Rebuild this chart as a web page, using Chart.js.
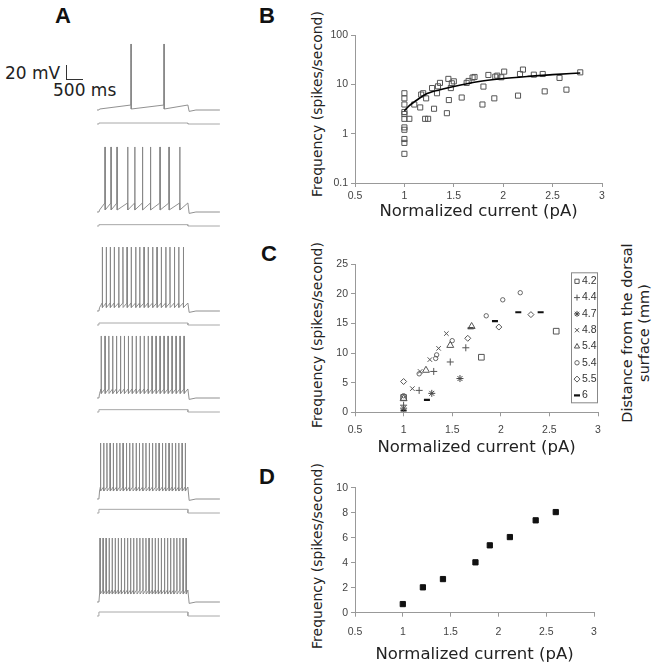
<!DOCTYPE html>
<html>
<head>
<meta charset="utf-8">
<title>Firing frequency vs current</title>
<script src="https://cdn.jsdelivr.net/npm/chart.js"></script>
<style>
  body { margin: 0; width: 666px; height: 671px; position: relative; overflow: hidden; background: #fff; font-family: 'DejaVu Sans', sans-serif; color: #222; }
  canvas { position: absolute; }
  .panel { position: absolute; font: bold 22px 'Liberation Sans', Arial, sans-serif; line-height: 22px; color: #111; }
  .txt { position: absolute; white-space: nowrap; font-size: 17px; line-height: 17px; color: #222; }
  .ytitle { position: absolute; width: 240px; height: 18px; line-height: 18px; text-align: center; font-size: 14px; transform: rotate(-90deg); white-space: nowrap; color: #222; }
  .rtitle { position: absolute; width: 220px; height: 34px; line-height: 17px; text-align: center; font-size: 14.5px; transform: rotate(-90deg); white-space: nowrap; color: #222; }
</style>
</head>
<body>
<div class="panel" style="left:55px;top:5px">A</div>
<div class="panel" style="left:259px;top:5px">B</div>
<div class="panel" style="left:261px;top:243px">C</div>
<div class="panel" style="left:259px;top:466px">D</div>

<div class="txt" style="left:5px;top:65px">20 mV</div>
<div style="position:absolute;left:66px;top:65px;width:16px;height:14px;border-left:1px solid #333;border-bottom:1px solid #333"></div>
<div class="txt" style="left:53px;top:82px">500 ms</div>

<div class="ytitle" style="left:197px;top:95px">Frequency (spikes/second)</div>
<div class="ytitle" style="left:197px;top:326px">Frequency (spikes/second)</div>
<div class="ytitle" style="left:197px;top:547px">Frequency (spikes/second)</div>
<div class="rtitle" style="left:526px;top:316px">Distance from the dorsal<br>surface (mm)</div>

<script>
// ---------- panel A: sweeps (times in ms from sweep start, levels in mV, step in pA) ----------
const stepOnMs = 60;
const stepOffMs = 2840;
const sweepEndMs = 3840;
const sweepSpikesMs = [
  [1063, 2094],
  [250, 438, 625, 959, 1181, 1422, 1672, 1969, 2250, 2587],
  [166, 290, 415, 540, 680, 810, 940, 1070, 1210, 1335, 1470, 1600, 1740, 1875, 2010, 2150, 2280, 2420, 2555, 2700],
  [130, 250, 370, 490, 610, 735, 855, 980, 1100, 1225, 1350, 1475, 1600, 1720, 1845, 1970, 2095, 2220, 2345, 2470, 2595, 2720],
  [110, 210, 310, 410, 510, 615, 715, 815, 920, 1020, 1120, 1225, 1325, 1430, 1530, 1635, 1735, 1840, 1940, 2045, 2145, 2250, 2350, 2455, 2555, 2660, 2760],
  [95, 190, 285, 380, 475, 570, 665, 760, 860, 955, 1050, 1145, 1245, 1340, 1435, 1530, 1625, 1725, 1820, 1915, 2010, 2110, 2205, 2300, 2400, 2495, 2590, 2690, 2785]
];
const sweepRestMv   = [-70, -70, -70, -70, -70, -70];
const sweepTroughMv = [-68.6, -67.1, -65.0, -63.6, -58.6, -58.6];
const sweepThreshMv = [-62.9, -57.1, -58.6, -57.1, -52.9, -52.9];
const sweepPeakMv   = [24.3, 22.9, 21.4, 18.6, 10.0, 21.4];
const sweepStepPa   = [30, 40, 60, 70, 110, 120];

// ---------- panel B ----------
const xTicks = [0.5, 1, 1.5, 2, 2.5, 3];
const bLogTicks = [0.1, 1, 10, 100];
const bCurrent = [1, 1, 1, 1, 1, 1, 1, 1, 1, 1, 1,
  1.05, 1.1, 1.16, 1.17, 1.19, 1.21, 1.22, 1.24, 1.28, 1.3, 1.33, 1.34, 1.36,
  1.43, 1.445, 1.45, 1.47, 1.48, 1.5, 1.58, 1.63, 1.65, 1.69, 1.71, 1.79, 1.8,
  1.85, 1.91, 1.92, 1.94, 1.98, 2.01, 2.15, 2.17, 2.2, 2.31, 2.4, 2.42, 2.57, 2.64, 2.78];
const bFreq = [6.6, 5.2, 3.9, 2.75, 2.5, 2.0, 1.34, 1.2, 0.78, 0.65, 0.39,
  2.0, 3.9, 3.4, 6.2, 6.6, 2.0, 5.2, 2.0, 8.4, 3.2, 6.6, 9.1, 10.7,
  2.6, 12.9, 4.8, 8.4, 10.5, 11.5, 5.4, 10.7, 11.7, 13.7, 14.1, 3.9, 9.0,
  15.5, 5.2, 14.3, 15.0, 13.9, 18.1, 5.9, 16.2, 19.9, 15.7, 16.2, 7.2, 13.5, 7.8, 17.5];
const bFitCurrent = [1.0, 1.05, 1.1, 1.23, 1.4, 1.57, 1.74, 1.98, 2.25, 2.5, 2.78];
const bFitFreq = [2.9, 3.7, 4.4, 6.5, 8.1, 9.7, 11.3, 13.0, 14.5, 15.7, 17.0];

// ---------- panel C ----------
const cDepthLabels = ['4.2', '4.4', '4.7', '4.8', '5.4', '5.4', '5.5', '6'];
const cCurrent = [
  [1.0, 1.8, 2.57],
  [1.0, 1.16, 1.31, 1.48, 1.64],
  [1.0, 1.29, 1.58],
  [1.09, 1.17, 1.27, 1.36, 1.44],
  [1.0, 1.23, 1.48, 1.7],
  [1.0, 1.16, 1.33, 1.34, 1.5, 1.85, 2.02, 2.2],
  [1.0, 1.66, 1.98, 2.31],
  [1.0, 1.24, 1.69, 1.94, 2.18, 2.41]
];
const cFreq = [
  [2.5, 9.3, 13.7],
  [1.2, 3.7, 6.9, 8.5, 10.9],
  [0.7, 3.2, 5.7],
  [4.0, 6.9, 8.9, 10.8, 13.3],
  [2.3, 7.1, 11.3, 14.5],
  [2.8, 6.5, 9.1, 9.7, 12.1, 16.3, 19.0, 20.2],
  [5.2, 12.5, 14.4, 16.5],
  [0.3, 2.1, 14.2, 15.4, 16.9, 16.9]
];

// ---------- panel D ----------
const dCurrent = [1.0, 1.21, 1.42, 1.76, 1.91, 2.12, 2.39, 2.6];
const dFreq = [0.69, 2.03, 2.69, 4.03, 5.39, 6.05, 7.39, 8.05];

// ---------- helpers ----------
Chart.defaults.font.family = "'DejaVu Sans', sans-serif";
Chart.defaults.color = '#333';
Chart.defaults.animation = false;

function makeCanvas(id, left, top, w, h) {
  const c = document.createElement('canvas');
  c.id = id;
  c.width = w; c.height = h;
  c.style.left = left + 'px'; c.style.top = top + 'px';
  c.style.width = w + 'px'; c.style.height = h + 'px';
  document.body.appendChild(c);
  return c.getContext('2d');
}

function zip(xs, ys) {
  return xs.map((x, i) => ({x: x, y: ys[i]}));
}

function voltageTrace(i) {
  const pts = [{x: 0, y: sweepRestMv[i]}, {x: stepOnMs, y: sweepRestMv[i]}, {x: stepOnMs + 20, y: sweepTroughMv[i]}];
  for (const t of sweepSpikesMs[i]) {
    pts.push({x: t - 4, y: sweepThreshMv[i]});
    pts.push({x: t, y: sweepPeakMv[i]});
    pts.push({x: t + 6, y: sweepTroughMv[i]});
  }
  pts.push({x: stepOffMs, y: sweepThreshMv[i]});
  pts.push({x: stepOffMs + 40, y: sweepRestMv[i] - 2});
  pts.push({x: stepOffMs + 250, y: sweepRestMv[i]});
  pts.push({x: sweepEndMs, y: sweepRestMv[i]});
  return pts;
}

function currentTrace(i) {
  const a = sweepStepPa[i];
  return [{x: 0, y: 0}, {x: stepOnMs, y: 0}, {x: stepOnMs, y: a}, {x: stepOffMs, y: a}, {x: stepOffMs, y: 0}, {x: sweepEndMs, y: 0}];
}

// sweeps: 0.7 px per mV, 31.25 ms per px
const sweepTops = [33, 135, 234, 321, 422, 525];
sweepSpikesMs.forEach((spikes, i) => {
  const ctx = makeCanvas('sweep' + i, 97, sweepTops[i], 125, 100);
  new Chart(ctx, {
    type: 'line',
    data: {
      datasets: [
        {data: voltageTrace(i), yAxisID: 'v', borderColor: '#858585', borderWidth: 0.9, pointRadius: 0, tension: 0},
        {data: currentTrace(i), yAxisID: 'i', borderColor: '#a8a8a8', borderWidth: 1, pointRadius: 0, tension: 0}
      ]
    },
    options: {
      responsive: false, events: [],
      layout: {padding: 0},
      plugins: {legend: {display: false}, tooltip: {enabled: false}},
      scales: {
        x: {type: 'linear', display: false, min: 0, max: 125 * 31.25},
        v: {display: false, min: 40 - 100 / 0.7, max: 40},
        i: {display: false, min: -270, max: 2730}
      }
    }
  });
});

function panelOptions(p) {
  return {
    responsive: false, events: [],
    layout: {padding: {top: p.padTop, right: p.padRight, left: 0, bottom: 0}},
    plugins: {legend: {display: false}, tooltip: {enabled: false}},
    scales: {
      x: {
        type: 'linear', min: 0.5, max: 3,
        afterBuildTicks: s => { s.ticks = xTicks.map(v => ({value: v})); },
        afterFit: s => { s.height = p.xHeight; },
        grid: {drawOnChartArea: false, drawTicks: true, tickLength: 4, color: '#999'},
        border: {color: '#999'},
        ticks: {padding: p.xTickPad, autoSkip: false, maxRotation: 0, color: '#444',
          font: {family: "'Liberation Sans', sans-serif", size: 10.5}, callback: v => String(v)},
        title: {display: true, text: 'Normalized current (pA)', color: '#222',
          font: {size: 16.5}, padding: {top: 0, bottom: p.xTitlePad}}
      },
      y: {
        type: p.yType, min: p.yMin, max: p.yMax,
        afterBuildTicks: s => { s.ticks = p.yTicks.map(v => ({value: v})); },
        afterFit: s => { s.width = 100; },
        grid: {drawOnChartArea: false, drawTicks: true, tickLength: 4, color: '#999'},
        border: {color: '#999'},
        ticks: {padding: 3, autoSkip: false, color: '#444',
          font: {family: "'Liberation Sans', sans-serif", size: 10.5}, callback: v => String(v)},
        title: {display: false}
      }
    }
  };
}

// ---------- B ----------
new Chart(makeCanvas('chartB', 255, 0, 360, 225), {
  type: 'scatter',
  data: {
    datasets: [
      {data: zip(bFitCurrent, bFitFreq), showLine: true, pointRadius: 0, borderColor: '#000', borderWidth: 1.6,
        cubicInterpolationMode: 'monotone'},
      {data: zip(bCurrent, bFreq), pointStyle: 'rect', pointRadius: 3.6, borderWidth: 1,
        borderColor: '#555', backgroundColor: 'rgba(0,0,0,0)'}
    ]
  },
  options: panelOptions({padTop: 35, padRight: 13, xHeight: 42, xTickPad: 3, xTitlePad: 3,
    yType: 'logarithmic', yMin: 0.1, yMax: 100, yTicks: bLogTicks})
});

// ---------- C ----------
const cStyles = [
  {pointStyle: 'rect', pointRadius: 4, borderWidth: 1, borderColor: '#555'},
  {pointStyle: 'cross', pointRadius: 3.5, borderWidth: 1, borderColor: '#555'},
  {pointStyle: 'star', pointRadius: 3.5, borderWidth: 1, borderColor: '#444'},
  {pointStyle: 'crossRot', pointRadius: 3.2, borderWidth: 1, borderColor: '#555'},
  {pointStyle: 'triangle', pointRadius: 4, borderWidth: 1, borderColor: '#555'},
  {pointStyle: 'circle', pointRadius: 2.2, borderWidth: 1, borderColor: '#666'},
  {pointStyle: 'rectRot', pointRadius: 3, borderWidth: 1, borderColor: '#555'},
  {pointStyle: 'line', pointRadius: 3, borderWidth: 2.2, borderColor: '#111'}
];

const cLegend = {
  id: 'cLegend',
  afterDatasetsDraw(chart) {
    const ctx = chart.ctx, a = chart.chartArea;
    const x0 = a.right - 27, y0 = a.top + 8, w = 27, h = 131, row = 16.3;
    ctx.save();
    ctx.fillStyle = '#fff';
    ctx.fillRect(x0, y0, w, h);
    ctx.strokeStyle = '#888';
    ctx.lineWidth = 1;
    ctx.strokeRect(x0 + 0.5, y0 + 0.5, w - 1, h - 1);
    chart.data.datasets.forEach((ds, i) => {
      const cy = y0 + 9 + i * row;
      if (Chart.helpers && Chart.helpers.drawPoint) {
        ctx.strokeStyle = ds.borderColor;
        ctx.fillStyle = 'rgba(0,0,0,0)';
        ctx.lineWidth = ds.borderWidth;
        Chart.helpers.drawPoint(ctx, {pointStyle: ds.pointStyle, radius: Math.min(ds.pointRadius, 3), borderWidth: ds.borderWidth, rotation: 0}, x0 + 6, cy);
      }
      ctx.fillStyle = '#333';
      ctx.font = "10.5px 'Liberation Sans', sans-serif";
      ctx.textBaseline = 'middle';
      ctx.textAlign = 'left';
      ctx.fillText(ds.label, x0 + 11, cy);
    });
    ctx.restore();
  }
};

new Chart(makeCanvas('chartC', 255, 225, 360, 235), {
  type: 'scatter',
  data: {
    datasets: cDepthLabels.map((lab, i) => Object.assign({
      label: lab,
      data: zip(cCurrent[i], cFreq[i]),
      backgroundColor: 'rgba(0,0,0,0)'
    }, cStyles[i]))
  },
  options: panelOptions({padTop: 39.3, padRight: 17, xHeight: 47.7, xTickPad: 7.5, xTitlePad: 2.6,
    yType: 'linear', yMin: 0, yMax: 25, yTicks: [0, 5, 10, 15, 20, 25]}),
  plugins: [cLegend]
});

// ---------- D ----------
new Chart(makeCanvas('chartD', 255, 460, 360, 211), {
  type: 'scatter',
  data: {
    datasets: [
      {data: zip(dCurrent, dFreq), pointStyle: 'rect', pointRadius: 3.7, borderWidth: 1,
        borderColor: '#111', backgroundColor: '#111'}
    ]
  },
  options: panelOptions({padTop: 27.7, padRight: 21, xHeight: 58.3, xTickPad: 9, xTitlePad: 6.1,
    yType: 'linear', yMin: 0, yMax: 10, yTicks: [0, 2, 4, 6, 8, 10]})
});
</script>
</body>
</html>
